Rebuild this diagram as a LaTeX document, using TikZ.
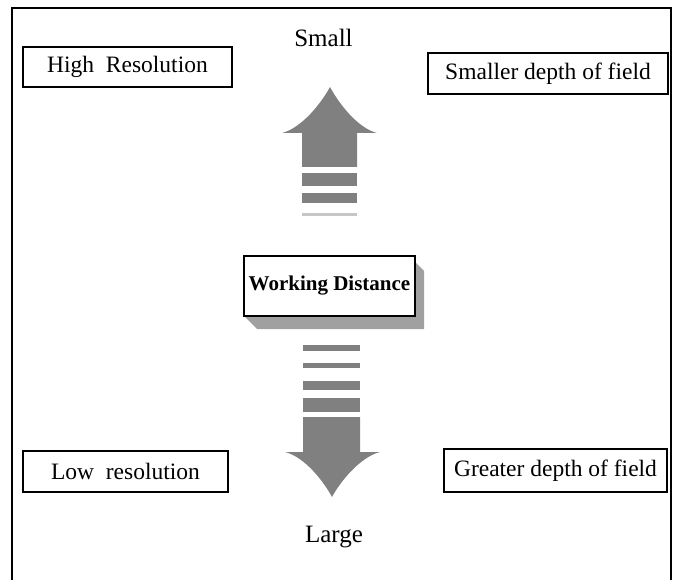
\documentclass[tikz,border=0pt]{standalone}
\usepackage{fontspec}
\setmainfont{Liberation Serif}
\usetikzlibrary{positioning}
\definecolor{arrowgray}{RGB}{128,128,128}
\definecolor{shadowgray}{RGB}{160,160,160}

\begin{document}
\begin{tikzpicture}[x=1pt,y=-1pt,
    labelbox/.style={draw, line width=1.8pt, inner sep=0pt,
        font=\fontsize{23.5}{26}\selectfont},
    endlabel/.style={anchor=base, inner sep=0pt,
        font=\fontsize{25}{28}\selectfont}]
    \useasboundingbox (0,0) rectangle (680,580);

    % Frame, open at the bottom
    \draw[line width=1.8pt] (12,580) -- (12,8) -- (671,8) -- (671,580);

    % Corner boxes
    \node[labelbox, minimum width=209pt, minimum height=40pt] (highres) at (127.5,67) {High~ Resolution};
    \node[labelbox, minimum width=240pt, minimum height=41pt] (smalldof) at (548,73.5) {Smaller depth of field};
    \node[labelbox, minimum width=205pt, minimum height=41pt] (lowres) at (125.5,471.5) {Low~ resolution};
    \node[labelbox, minimum width=223pt, minimum height=43pt] (greatdof) at (555.5,470.5) {Greater depth of field};

    % Small / Large
    \node[endlabel] (small) at (323.5,47) {Small};
    \node[endlabel] (large) at (334,542) {Large};

    % Up arrow
    \fill[arrowgray] (330,87) .. controls (322,102) and (302,128) .. (282,133)
        -- (302,133) -- (302,167) -- (357,167) -- (357,133) -- (377,133)
        .. controls (357,128) and (338,102) .. (330,87) -- cycle;
    \fill[arrowgray] (302,173) rectangle (357,186);
    \fill[arrowgray] (302,193) rectangle (357,203);
    \fill[arrowgray!45] (302,213) rectangle (357,216);

    % Down arrow
    \fill[arrowgray] (303,345) rectangle (360,351);
    \fill[arrowgray] (303,363) rectangle (360,368);
    \fill[arrowgray] (303,381) rectangle (360,390);
    \fill[arrowgray] (303,398) rectangle (360,412);
    \fill[arrowgray] (303,417) -- (303,452) -- (285,452)
        .. controls (305,457) and (324,482) .. (332,497)
        .. controls (340,482) and (360,457) .. (380,452)
        -- (360,452) -- (360,417) -- cycle;

    % Working distance box with 3D shadow
    \fill[shadowgray] (415,262) -- (424,271) -- (424,329) -- (257,329)
        -- (244,316) -- (415,316) -- cycle;
    \node[draw, fill=white, line width=1.8pt, inner sep=0pt,
        minimum width=171pt, minimum height=60pt,
        font=\fontsize{21}{24}\selectfont\bfseries] (workdist) at (329.5,286) {Working Distance};
\end{tikzpicture}
\end{document}
